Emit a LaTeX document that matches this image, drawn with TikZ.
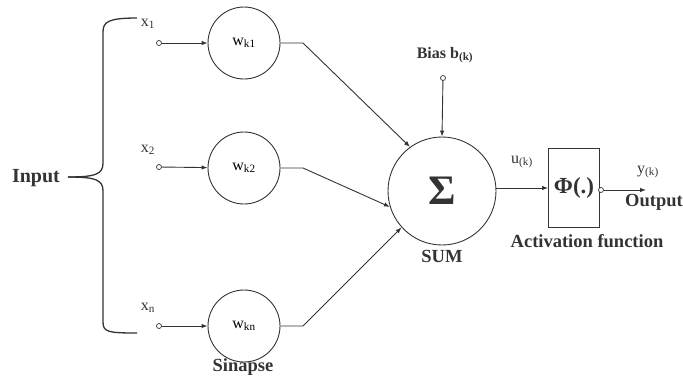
\documentclass[tikz,border=0pt]{standalone}
\usepackage{fontspec}
\setmainfont{Liberation Serif}
\usetikzlibrary{arrows.meta}
\definecolor{ink}{HTML}{333333}
\tikzset{
  conn/.style={draw=ink, line width=0.9pt},
  arr/.style={conn, -{Latex[length=6pt,width=4.5pt]}},
  wcirc/.style={circle, draw=ink, line width=0.9pt, minimum size=72pt, inner sep=0pt, font=\fontsize{16}{16}\selectfont},
  pin/.style={circle, draw=ink, line width=0.7pt, fill=white, minimum size=5pt, inner sep=0pt},
  lbl/.style={text=ink, inner sep=0pt, font=\fontsize{16}{16}\selectfont},
  blbl/.style={text=ink, inner sep=0pt, font=\fontsize{18.5}{19}\selectfont\bfseries},
}
\begin{document}
\begin{tikzpicture}[x=1pt, y=-1pt]
\useasboundingbox (0,0) rectangle (683,376);
% brace
\draw[conn, line width=1.3pt] (137,18) .. controls (108,18) and (103,22) .. (103,32) -- (103,163)
   .. controls (103,174) and (96,177) .. (68,177);
\draw[conn, line width=1.3pt] (68,177) .. controls (96,177) and (103,180) .. (103,191) -- (103,322)
   .. controls (103,332) and (108,333) .. (137,333);
\node[blbl, font=\fontsize{20}{20}\selectfont\bfseries] (input) at (36,178) {Input};

% inputs
\node[lbl] (x1) at (148,24) {x\textsubscript{1}};
\node[lbl] (x2) at (148,150) {x\textsubscript{2}};
\node[lbl] (xn) at (148,308) {x\textsubscript{n}};
\node[pin] (p1) at (159,43) {};
\node[pin] (p2) at (159,167) {};
\node[pin] (pn) at (159,326) {};

% weights
\node[wcirc] (w1) at (244,43) {w\textsubscript{k1}};
\node[wcirc] (w2) at (244,168) {w\textsubscript{k2}};
\node[wcirc] (wn) at (244,326) {w\textsubscript{kn}};
\node[blbl] (sinapse) at (243,367) {Sinapse};

\draw[arr] (p1) -- (w1);
\draw[arr] (p2) -- (w2);
\draw[arr] (pn) -- (wn);

% sum
\node[circle, draw=ink, line width=0.9pt, minimum size=108pt, inner sep=0pt,
      font=\fontsize{42}{42}\selectfont\bfseries, text=ink] (sum) at (442,191) {Σ};
\node[blbl] (sumlbl) at (442,256) {SUM};

\coordinate (k1) at (303,43);
\coordinate (k2) at (303,168);
\coordinate (kn) at (303,326);
\draw[arr] (w1.east) -- (k1) -- (sum.126);
\draw[arr] (w2.east) -- (k2) -- (sum.197);
\draw[arr] (wn.east) -- (kn) -- (sum.222);

% bias
\node[lbl, font=\fontsize{16}{16}\selectfont\bfseries] (bias) at (445,55) {Bias b\textsubscript{(k)}};
\node[pin] (pb) at (443,78) {};
\draw[arr] (pb) -- (sum.north);

% activation
\node[draw=ink, line width=0.9pt, minimum width=51pt, minimum height=79pt, inner sep=0pt,
      font=\fontsize{23}{23}\selectfont\bfseries, text=ink] (act) at (574,188) {Φ(.)};
\node[lbl] (u) at (522,162) {u\textsubscript{(k)}};
\draw[arr] (sum.east |- act.west) -- (act.west);
\node[pin] (po) at (601,190) {};
\coordinate (oend) at (646,190);
\draw[arr] (po) -- (oend);
\node[lbl] (y) at (648,172) {y\textsubscript{(k)}};
\node[blbl] (output) at (654,202) {Output};
\node[blbl] (actlbl) at (587,241) {Activation function};
\end{tikzpicture}
\end{document}
